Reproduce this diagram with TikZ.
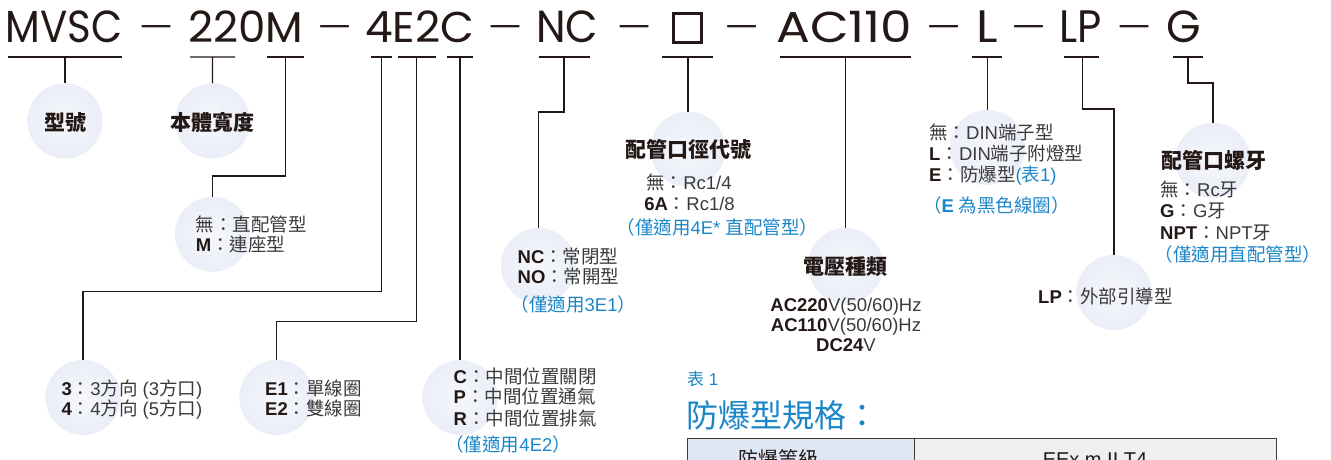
\documentclass[tikz,border=0pt]{standalone}
\usepackage{fontspec}
\usepackage{graphicx}
\setmainfont{Liberation Sans}
\newfontfamily\cj{Noto Sans CJK TC}
\newfontfamily\hdfont{Poppins}
\definecolor{ink}{HTML}{231815}
\definecolor{txtc}{HTML}{3A3A3A}
\definecolor{bl}{HTML}{1A86C8}
\definecolor{bubin}{HTML}{F6F7FC}
\definecolor{bubout}{HTML}{E0E5F3}
\definecolor{cellA}{HTML}{DFE6F5}
\definecolor{cellB}{HTML}{EFEFEF}
\pgfdeclareradialshading{bub}{\pgfpoint{0bp}{0bp}}{color(0bp)=(bubin); color(25bp)=(bubin!50!bubout); color(50bp)=(bubout)}
\newcommand\zh[1]{{\cj #1}}
\newcommand\bb[1]{{\bfseries\color{ink}#1}}
\newcommand\hdtxt[3]{\resizebox{#1pt}{#2pt}{\hdfont #3}}
\newcommand\dashtxt{\scalebox{1.85}[1]{\resizebox{20pt}{!}{\hdfont –}}}
\tikzset{
  conn/.style={draw=ink, line width=1.3pt},
  bubble/.style={circle, minimum size=75pt, inner sep=0pt, shade, shading=bub},
  hd/.style={inner sep=0pt, text=ink},
  desc/.style={inner sep=0pt, text=txtc, font=\fontsize{18.5}{20}\selectfont},
  bluetxt/.style={inner sep=0pt, text=bl, font=\fontsize{18.5}{20}\selectfont},
  ttl/.style={inner sep=0pt, text=ink, font=\fontsize{21}{24}\selectfont\cj\bfseries}
}
\begin{document}
\begin{tikzpicture}[x=1pt,y=-1pt]
\useasboundingbox (0,0) rectangle (1331,459);
\clip (0,0) rectangle (1331,459);
% ---------- bubbles
\node[bubble] (c1) at (65,121) {};
\node[bubble] (c2) at (212.5,121) {};
\node[bubble] (c3) at (212.5,234.2) {};
\node[bubble] (c4) at (83,397.5) {};
\node[bubble] (c5) at (276.8,397.5) {};
\node[bubble] (c6) at (460,397.5) {};
\node[bubble] (c7) at (538.5,265.5) {};
\node[bubble] (c8) at (688,149.2) {};
\node[bubble] (c9) at (845.5,265.5) {};
\node[bubble] (c10) at (987.5,147.5) {};
\node[bubble] (c11) at (1114,292.5) {};
\node[bubble] (c12) at (1213,160.2) {};
% ---------- header
\node[hd,anchor=base west] (h1) at (5.7,42) {\hdtxt{116.8}{31.7}{MVSC}};
\node[hd,anchor=north] (d1) at (156,25.8) {\dashtxt};
\node[hd,anchor=base west] (h2) at (188,42) {\hdtxt{115}{31.7}{220M}};
\node[hd,anchor=north] (d2) at (334.7,25.8) {\dashtxt};
\node[hd,anchor=base west] (h3) at (365,42) {\hdtxt{109}{31.7}{4E2C}};
\node[hd,anchor=north] (d3) at (505,25.8) {\dashtxt};
\node[hd,anchor=base west] (h4) at (536,42) {\hdtxt{62}{31.7}{NC}};
\node[hd,anchor=north] (d4) at (634,25.8) {\dashtxt};
\node[draw=ink, line width=2.6pt, minimum width=28.4pt, minimum height=28.9pt, inner sep=0pt] (h5) at (687.5,27.8) {};
\node[hd,anchor=north] (d5) at (741.5,25.8) {\dashtxt};
\node[hd,anchor=base west] (h6) at (776,42) {\hdtxt{136}{31.7}{AC110}};
\node[hd,anchor=north] (d6) at (943.5,25.8) {\dashtxt};
\node[hd,anchor=base west] (h7) at (976,42) {\hdtxt{21.5}{31.7}{L}};
\node[hd,anchor=north] (d7) at (1028.6,25.8) {\dashtxt};
\node[hd,anchor=base west] (h8) at (1059.7,42) {\hdtxt{42.3}{31.7}{LP}};
\node[hd,anchor=north] (d8) at (1134,25.8) {\dashtxt};
\node[hd,anchor=base west] (h9) at (1166.5,42) {\hdtxt{34.5}{31.7}{G}};
% ---------- underline coordinates
\coordinate (u1) at (65,57);     \coordinate (u1a) at (7.7,57);   \coordinate (u1b) at (121.8,57);
\coordinate (u2) at (212.4,57);  \coordinate (u2a) at (190,57);   \coordinate (u2b) at (235,57);
\coordinate (u3) at (285.5,57);  \coordinate (u3a) at (267,57);   \coordinate (u3b) at (304,57);
\coordinate (u4) at (381.6,57);  \coordinate (u4a) at (371,57);   \coordinate (u4b) at (392,57);
\coordinate (u5) at (416.7,57);  \coordinate (u5a) at (398,57);   \coordinate (u5b) at (436,57);
\coordinate (u6) at (460,57);    \coordinate (u6a) at (447,57);   \coordinate (u6b) at (473,57);
\coordinate (u7) at (564,57);    \coordinate (u7a) at (538.5,57); \coordinate (u7b) at (590,57);
\coordinate (u8) at (688,57);    \coordinate (u8a) at (662,57);   \coordinate (u8b) at (713.4,57);
\coordinate (u9) at (845.5,57);  \coordinate (u9a) at (779.7,57); \coordinate (u9b) at (911.3,57);
\coordinate (u10) at (987.5,57); \coordinate (u10a) at (972,57);  \coordinate (u10b) at (1002,57);
\coordinate (u11) at (1082.2,57);\coordinate (u11a) at (1064,57); \coordinate (u11b) at (1099,57);
\coordinate (u12) at (1188,57);  \coordinate (u12a) at (1173,57); \coordinate (u12b) at (1202.7,57);
% elbows
\coordinate (j3) at (212.5,176);
\coordinate (j4) at (83,291.7);
\coordinate (j5) at (276.8,321.7);
\coordinate (j7) at (538.5,112);
\coordinate (j11) at (1114,109);
\coordinate (j12) at (1213,83);
% ---------- connectors
\draw[conn] (u1a) -- (u1b) (u1) -- (c1.north);
\draw[conn] (u2a) -- (u2b) (u2) -- (c2.north);
\draw[conn] (u3a) -- (u3b) (u3) |- (j3) -- (c3.north);
\draw[conn] (u4a) -- (u4b) (u4) |- (j4) -- (c4.north);
\draw[conn] (u5a) -- (u5b) (u5) |- (j5) -- (c5.north);
\draw[conn] (u6a) -- (u6b) (u6) -- (c6.north);
\draw[conn] (u7a) -- (u7b) (u7) |- (j7) -- (c7.north);
\draw[conn] (u8a) -- (u8b) (u8) -- (c8.north);
\draw[conn] (u9a) -- (u9b) (u9) -- (c9.north);
\draw[conn] (u10a) -- (u10b) (u10) -- (c10.north);
\draw[conn] (u11a) -- (u11b) (u11) |- (j11) -- (c11.north);
\draw[conn] (u12a) -- (u12b) (u12) |- (j12) -- (c12.north);
% ---------- titles
\node[ttl,anchor=base] (t1) at (65,130.5) {型號};
\node[ttl,anchor=base] (t2) at (212.5,130) {本體寬度};
\node[ttl,anchor=base] (t8) at (688.3,157.5) {配管口徑代號};
\node[ttl,anchor=base] (t9) at (845.5,274.2) {電壓種類};
\node[ttl,anchor=base] (t12) at (1213.5,168.5) {配管口螺牙};
% ---------- descriptions
\node[desc,anchor=base west] (a1) at (195.7,231.7) {\zh{無：直配管型}};
\node[desc,anchor=base west] (a2) at (195.7,251.7) {\bb{M}\zh{：連座型}};
\node[desc,anchor=base west] (b1) at (517.5,263.4) {\bb{NC}\zh{：常閉型}};
\node[desc,anchor=base west] (b2) at (517.5,283.4) {\bb{NO}\zh{：常開型}};
\node[bluetxt,anchor=base] (b3) at (573.4,311.7) {\zh{（僅適用}3E1\zh{）}};
\node[desc,anchor=base] (p1) at (689,189.4) {\zh{無：}Rc1/4};
\node[desc,anchor=base] (p2) at (689.5,210) {\bb{6A}\zh{：}Rc1/8};
\node[bluetxt,anchor=base] (p3) at (717.3,234.7) {\zh{（僅適用}4E* \zh{直配管型）}};
\node[desc,anchor=base] (v1) at (846,311.7) {\bb{AC220}V(50/60)Hz};
\node[desc,anchor=base] (v2) at (846,331.7) {\bb{AC110}V(50/60)Hz};
\node[desc,anchor=base] (v3) at (846,351.7) {\bb{DC24}V};
\node[desc,anchor=base west] (l1) at (929,139) {\zh{無：}DIN\zh{端子型}};
\node[desc,anchor=base west] (l2) at (929,160) {\bb{L}\zh{：}DIN\zh{端子附燈型}};
\node[desc,anchor=base west] (l3) at (929,181.7) {\bb{E}\zh{：防爆型}\textcolor{bl}{(\zh{表}1)}};
\node[bluetxt,anchor=base] (l4) at (996.5,212.7) {\zh{（}\textbf{E} \zh{為黑色線圈）}};
\node[desc,anchor=base west] (lp1) at (1038,303.4) {\bb{LP}\zh{：外部引導型}};
\node[desc,anchor=base west] (g1) at (1160,196.7) {\zh{無：}Rc\zh{牙}};
\node[desc,anchor=base west] (g2) at (1160,217.5) {\bb{G}\zh{：}G\zh{牙}};
\node[desc,anchor=base west] (g3) at (1160,239.4) {\bb{NPT}\zh{：}NPT\zh{牙}};
\node[bluetxt,anchor=base] (g4) at (1238,261.7) {\zh{（僅適用直配管型）}};
\node[desc,anchor=base west] (k1) at (61.3,395) {\bb{3}\zh{：}3\zh{方向} (3\zh{方口})};
\node[desc,anchor=base west] (k2) at (61.3,415) {\bb{4}\zh{：}4\zh{方向} (5\zh{方口})};
\node[desc,anchor=base west] (e1) at (265,395) {\bb{E1}\zh{：單線圈}};
\node[desc,anchor=base west] (e2) at (265,415) {\bb{E2}\zh{：雙線圈}};
\node[desc,anchor=base west] (m1) at (453.5,383.4) {\bb{C}\zh{：中間位置關閉}};
\node[desc,anchor=base west] (m2) at (453.5,403.4) {\bb{P}\zh{：中間位置通氣}};
\node[desc,anchor=base west] (m3) at (453.5,425) {\bb{R}\zh{：中間位置排氣}};
\node[bluetxt,anchor=base] (m4) at (508.2,451.7) {\zh{（僅適用}4E2\zh{）}};
% ---------- table 1
\node[inner sep=0pt,text=bl,font=\fontsize{17}{20}\selectfont,anchor=base west] (tb1) at (687,385.5) {\zh{表} 1};
\node[inner sep=0pt,text=bl,font=\fontsize{32}{36}\selectfont\cj,anchor=base west] (tb2) at (686.3,427) {防爆型規格：};
\node[draw=ink!85, line width=1.1pt, fill=cellA, minimum width=227.2pt, minimum height=60pt, inner sep=0pt, anchor=north west] (cA) at (686.5,438.3) {};
\node[draw=ink!85, line width=1.1pt, fill=cellB, minimum width=362.5pt, minimum height=60pt, inner sep=0pt, anchor=north west] (cB) at (913.7,438.3) {};
\node[desc,text=ink,font=\fontsize{20}{22}\selectfont,anchor=base] (tA) at (778,466) {\zh{防爆等級}};
\node[desc,text=ink,font=\fontsize{20}{22}\selectfont,anchor=base] (tB) at (1095,466) {EEx m II T4};
\end{tikzpicture}
\end{document}
